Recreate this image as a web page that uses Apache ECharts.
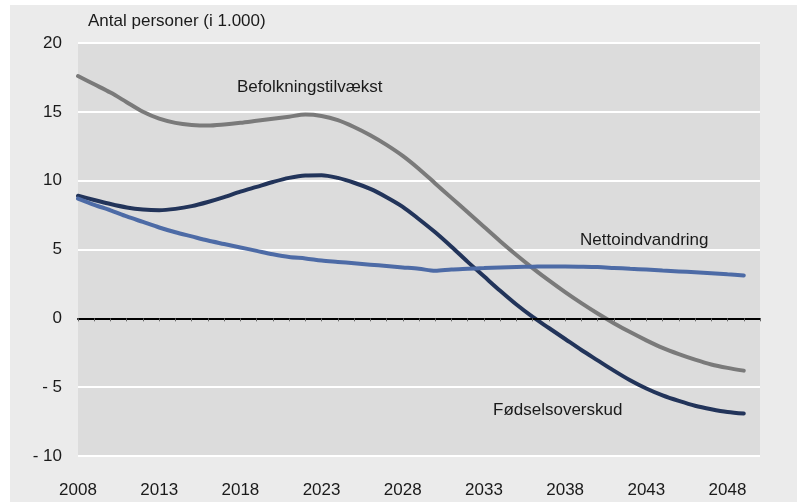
<!DOCTYPE html>
<html>
<head>
<meta charset="utf-8">
<title>Befolkningstilvækst</title>
<script src="https://cdn.jsdelivr.net/npm/echarts@6/dist/echarts.min.js"></script>
<style>
    html, body { margin: 0; padding: 0; background: #fff; }
    #chart { width: 797px; height: 503px; }
</style>
</head>
<body>
<div id="chart"></div>
<script>
// år på x-aksen (2050 er kun aksens slutpunkt)
var years = [];
for (var y = 2008; y <= 2050; y++) {
    years.push(String(y));
}

// Befolkningstilvækst (grå)
var befolkning = [17.6, 17.0, 16.4, 15.7, 15.0, 14.5, 14.2, 14.05, 14.0, 14.08,
    14.2, 14.35, 14.5, 14.65, 14.8, 14.7, 14.4, 13.9, 13.3, 12.6,
    11.8, 10.85, 9.8, 8.75, 7.7, 6.65, 5.6, 4.6, 3.65, 2.75,
    1.9, 1.1, 0.35, -0.35, -1.0, -1.6, -2.15, -2.6, -3.0, -3.35,
    -3.6, -3.8, null];

// Fødselsoverskud (mørkeblå)
var foedsel = [8.9, 8.6, 8.3, 8.05, 7.9, 7.85, 7.95, 8.15, 8.45, 8.8,
    9.2, 9.55, 9.9, 10.2, 10.38, 10.4, 10.2, 9.85, 9.4, 8.8,
    8.1, 7.2, 6.25, 5.2, 4.1, 3.05, 2.0, 1.0, 0.1, -0.7,
    -1.5, -2.3, -3.05, -3.8, -4.5, -5.1, -5.6, -6.0, -6.35, -6.6,
    -6.8, -6.92, null];

// Nettoindvandring (blå)
var netto = [8.7, 8.25, 7.85, 7.4, 7.0, 6.6, 6.25, 5.95, 5.65, 5.4,
    5.15, 4.9, 4.65, 4.45, 4.35, 4.2, 4.1, 4.0, 3.9, 3.8,
    3.7, 3.6, 3.45, 3.55, 3.6, 3.65, 3.7, 3.73, 3.75, 3.77,
    3.77, 3.75, 3.72, 3.66, 3.6, 3.54, 3.47, 3.41, 3.35, 3.28,
    3.2, 3.12, null];

var fontName = '"Liberation Sans", Arial, sans-serif';
var textColor = '#1a1a1a';

var yMin = -10, yMax = 20;
var gridTop = 43, gridBottom = 47, chartHeight = 503;

var chart = echarts.init(document.getElementById('chart'));

function lineSeries(name, data, color) {
    return {
        name: name,
        type: 'line',
        xAxisIndex: 0,
        yAxisIndex: 0,
        data: data,
        smooth: 0.3,
        symbol: 'none',
        lineStyle: { color: color, width: 4, cap: 'round' },
        z: 3
    };
}

function label(text, x, y) {
    return {
        type: 'text',
        left: x,
        top: y,
        z: 10,
        style: { text: text, font: '17px ' + fontName, fill: textColor }
    };
}

// afstand fra plottets top ned til nul-linjen
var plotHeight = chartHeight - gridTop - gridBottom;
var zeroOffset = plotHeight * yMax / (yMax - yMin);

var option = {
    backgroundColor: '#ffffff',
    animation: false,
    grid: {
        left: 78,
        right: 37,
        top: gridTop,
        bottom: gridBottom,
        show: true,
        backgroundColor: '#dcdcdc',
        borderWidth: 0
    },
    graphic: [
        // lys grå ramme bag hele figuren
        {
            type: 'rect',
            shape: { x: 10, y: 5, width: 787, height: 497 },
            style: { fill: '#ebebeb' },
            z: -10,
            silent: true
        },
        label('Antal personer (i 1.000)', 88, 13),
        label('Befolkningstilvækst', 237, 79),
        label('Nettoindvandring', 580, 232),
        label('Fødselsoverskud', 493, 402)
    ],
    xAxis: [
        {
            type: 'category',
            data: years,
            boundaryGap: false,
            position: 'bottom',
            axisLine: { show: false },
            axisTick: { show: false },
            splitLine: { show: false },
            axisLabel: {
                interval: 4,
                margin: 26,
                fontSize: 17,
                fontFamily: fontName,
                color: textColor
            }
        },
        {
            // nul-linjen med små årsmærker
            type: 'category',
            data: years,
            boundaryGap: false,
            position: 'top',
            offset: -zeroOffset,
            axisLine: { show: true, onZero: false, lineStyle: { color: '#000', width: 2 } },
            axisTick: { show: true, interval: 0, length: 3, inside: true, lineStyle: { color: '#666', width: 1 } },
            axisLabel: { show: false },
            splitLine: { show: false },
            z: 4
        }
    ],
    yAxis: {
        type: 'value',
        min: yMin,
        max: yMax,
        interval: 5,
        axisLine: { show: false },
        axisTick: { show: false },
        splitLine: { show: true, lineStyle: { color: '#ffffff', width: 2 } },
        axisLabel: {
            margin: 16,
            fontSize: 17,
            fontFamily: fontName,
            color: textColor,
            formatter: function (v) {
                return v < 0 ? '- ' + Math.abs(v) : String(v);
            }
        }
    },
    series: [
        lineSeries('Befolkningstilvækst', befolkning, '#7a7a7a'),
        lineSeries('Fødselsoverskud', foedsel, '#22345a'),
        lineSeries('Nettoindvandring', netto, '#4d6ba6')
    ]
};

chart.setOption(option);
</script>
</body>
</html>
